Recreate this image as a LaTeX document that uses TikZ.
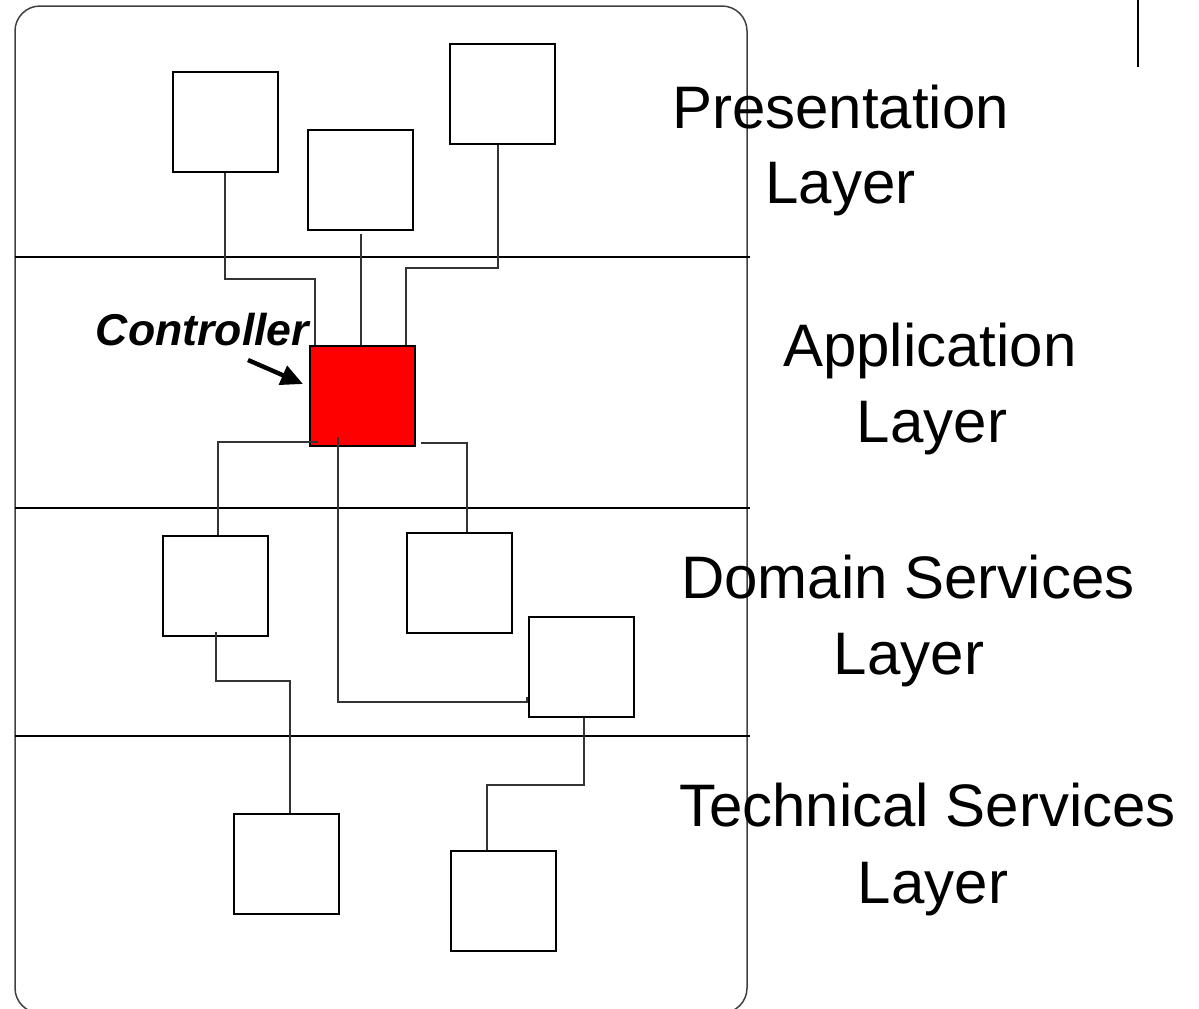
\documentclass[tikz,border=0pt]{standalone}
\usepackage{fontspec}
\setmainfont{Liberation Sans}
\usetikzlibrary{arrows.meta}
\begin{document}
\begin{tikzpicture}[x=0.5pt,y=-0.5pt,
  box/.style={draw=black, line width=1pt, fill=white, minimum width=52.5pt,
    minimum height=50pt, inner sep=0pt},
  ctrlbox/.style={box, fill=red},
  conn/.style={draw=black!80, line width=0.55pt},
  layerline/.style={draw=black, line width=1pt},
  frame/.style={draw=black!75, line width=0.75pt, rounded corners=12.5pt},
  layertext/.style={font=\fontsize{30}{36}\selectfont, anchor=base, inner sep=0pt},
  ctrltext/.style={font=\fontsize{22.3}{26}\selectfont\bfseries\itshape, anchor=base, inner sep=0pt},
  pointer/.style={line width=2.2pt, -{Triangle[length=11pt,width=10pt]}}
]
\useasboundingbox (0,0) rectangle (1199,1008);

% outer frame and layer separators
\draw[frame] (15,6) rectangle (747,1013);
\draw[layerline] (15,257) -- (750,257);
\draw[layerline] (15,508) -- (750,508);
\draw[layerline] (15,736) -- (750,736);
\draw[line width=1pt] (1138,0) -- (1138,67);

% layer names
\node[layertext] (presA) at (840.5,128) {Presentation};
\node[layertext] (presB) at (840.5,203) {Layer};
\node[layertext] (appA) at (930,366) {Application};
\node[layertext] (appB) at (932,442) {Layer};
\node[layertext] (domA) at (908,598) {Domain Services};
\node[layertext] (domB) at (909,674) {Layer};
\node[layertext] (techA) at (927.5,826) {Technical Services};
\node[layertext] (techB) at (933,903) {Layer};

% components
\node[box] (P1) at (225,122) {};
\node[box] (P2) at (360.5,180) {};
\node[box] (P3) at (502.5,94) {};
\node[ctrlbox] (C) at (362.5,396) {};
\node[box] (D1) at (215.5,585.5) {};
\node[box] (D2) at (459.5,583) {};
\node[box] (D3) at (581.5,667) {};
\node[box] (T1) at (286.5,864) {};
\node[box] (T2) at (503.5,901) {};

% controller label and pointer
\node[ctrltext] (ctrl) at (202.5,345) {Controller};
\coordinate (ptrS) at (248,360);
\coordinate (ptrE) at (303,384);
\draw[pointer] (ptrS) -- (ptrE);

% connectors
\draw[conn] (P1.south) |- (315,279) -- (315,0 |- C.north);
\draw[conn] (361,234) -- (361,0 |- C.north);
\draw[conn] (498,0 |- P3.south) |- (406,268) -- (406,0 |- C.north);
\draw[conn] (318,442) -| (218,0 |- D1.north);
\draw[conn] (421,443) -| (467,0 |- D2.north);
\draw[conn] (338,437) |- (527,702) -- (527,697);
\draw[conn] (216,632) |- (290,681) -- (290,0 |- T1.north);
\draw[conn] (584,0 |- D3.south) |- (487,785) -- (487,0 |- T2.north);
\end{tikzpicture}
\end{document}
